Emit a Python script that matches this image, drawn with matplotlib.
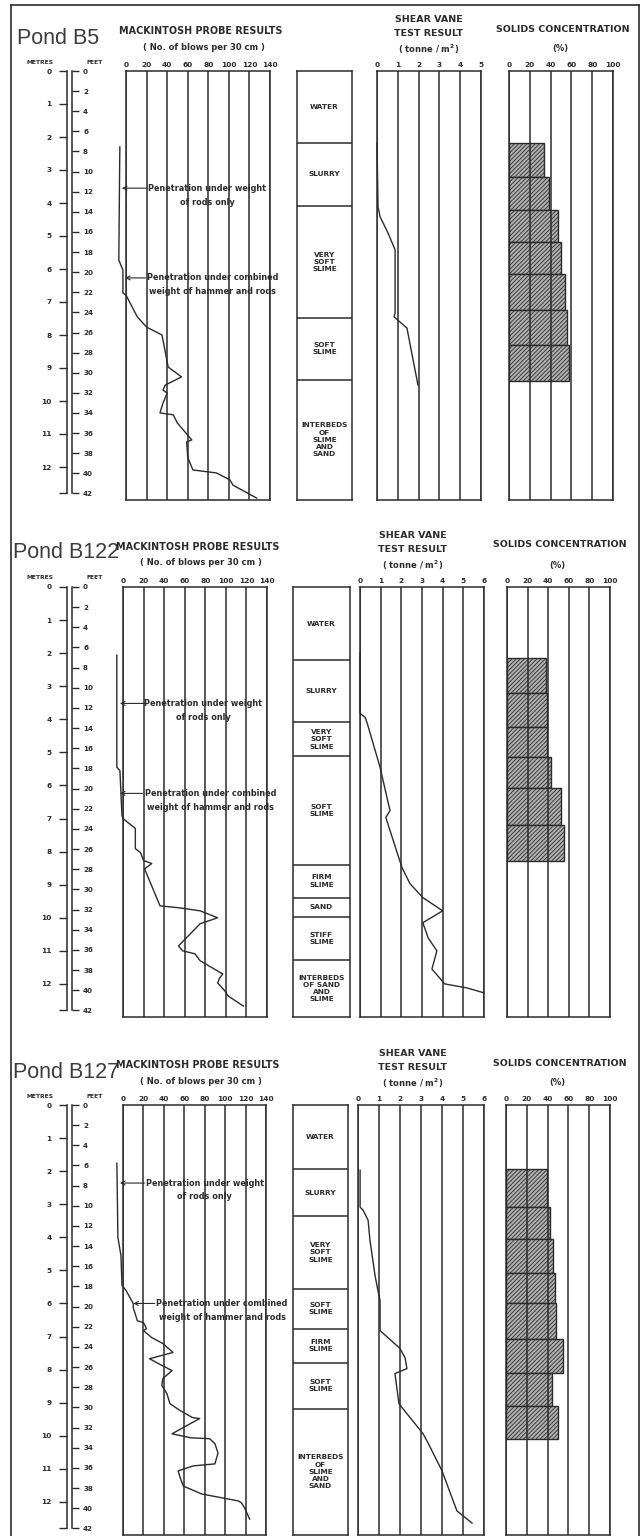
import numpy as np
import matplotlib
matplotlib.use('Agg')
import matplotlib.pyplot as plt
from matplotlib.lines import Line2D

W, H = 642, 1536
INK = '#2b2b2b'
DEPTH_MAX = 13.0
FT = 0.3048

# ---- tick labels ----
METRE_TICKS = list(range(0, 13))
FEET_TICKS = list(range(0, 43, 2))
PROBE_TICKS = [0, 20, 40, 60, 80, 100, 120, 140]
SOLIDS_TICKS = [0, 20, 40, 60, 80, 100]

# ---- Pond B5 ----
b5_probe_depth = [2.30, 5.73, 6.03, 6.73, 6.79, 7.45, 7.76, 8.00, 8.97, 9.27, 9.52, 9.67, 9.76,
                  10.06, 10.36, 10.42, 10.67, 11.18, 11.24, 11.70, 12.09, 12.18, 12.39, 12.55, 12.94]
b5_probe_blows = [-6, -7, -3, -3, 0, 11, 20, 35, 41, 54, 38, 36, 40,
                  36, 33, 46, 50, 64, 59, 60, 65, 88, 101, 104, 127]
b5_vane_depth = [2.18, 4.12, 4.42, 4.91, 5.42, 7.33, 7.45, 7.79, 9.52]
b5_vane_value = [0.0, 0.05, 0.15, 0.53, 0.87, 0.87, 0.82, 1.44, 1.97]
b5_vane_ticks = [0, 1, 2, 3, 4, 5]
b5_solids_edges = [2.18, 3.21, 4.21, 5.18, 6.15, 7.24, 8.30, 9.39]
b5_solids_pct = [34, 38, 47, 50, 54, 56, 58]
b5_layer_edges = [0, 2.18, 4.09, 7.48, 9.36, 13.0]
b5_layer_names = ['WATER', 'SLURRY', 'VERY\nSOFT\nSLIME', 'SOFT\nSLIME',
                  'INTERBEDS\nOF\nSLIME\nAND\nSAND']

# ---- Pond B122 ----
b122_probe_depth = [2.06, 5.45, 5.55, 6.91, 7.00, 7.30, 7.91, 8.03, 8.27, 8.36, 8.52, 8.67, 9.64,
                    9.70, 9.79, 10.00, 10.18, 10.85, 11.00, 11.09, 11.30, 11.70, 11.82, 11.97,
                    12.21, 12.36, 12.67]
b122_probe_blows = [-6, -6, -3, -1, 0, 12, 12, 17, 20, 28, 21, 23, 36,
                    55, 75, 92, 75, 54, 58, 70, 75, 97, 94, 92,
                    99, 102, 117]
b122_vane_depth = [2.00, 3.82, 3.94, 4.12, 5.45, 6.76, 6.97, 8.48, 8.97, 9.39, 9.79, 10.15,
                   10.61, 11.00, 11.55, 12.00, 12.12, 12.27]
b122_vane_value = [0.0, 0.0, 0.25, 0.35, 0.97, 1.45, 1.25, 2.03, 2.42, 3.04, 4.0, 3.04,
                   3.3, 3.72, 3.48, 4.1, 5.17, 6.0]
b122_vane_ticks = [0, 1, 2, 3, 4, 5, 6]
b122_solids_edges = [2.15, 3.21, 4.24, 5.15, 6.09, 7.21, 8.27]
b122_solids_pct = [38, 39, 39, 43, 52, 55]
b122_layer_edges = [0, 2.21, 4.09, 5.12, 8.39, 9.39, 9.97, 11.27, 13.0]
b122_layer_names = ['WATER', 'SLURRY', 'VERY\nSOFT\nSLIME', 'SOFT\nSLIME', 'FIRM\nSLIME',
                    'SAND', 'STIFF\nSLIME', 'INTERBEDS\nOF SAND\nAND\nSLIME']

# ---- Pond B127 ----
b127_probe_depth = [1.76, 4.00, 4.55, 5.45, 5.61, 6.00, 6.12, 6.52, 6.58, 6.76, 6.82, 7.03,
                    7.21, 7.48, 7.67, 7.79, 8.03, 8.27, 8.48, 8.73, 9.03, 9.24, 9.45, 9.48,
                    9.70, 9.94, 10.06, 10.09, 10.24, 10.52, 10.85, 10.91, 11.06, 11.27, 11.52,
                    11.76, 11.97, 12.03, 12.18, 12.52]
b127_probe_blows = [-6, -5, -2, -1, 3, 10, 10, 14, 20, 23, 20, 28,
                    39, 49, 26, 33, 48, 39, 38, 43, 46, 56, 68, 75,
                    62, 48, 66, 85, 90, 93, 90, 69, 54, 56, 59,
                    77, 113, 116, 119, 124]
b127_vane_depth = [1.97, 3.09, 3.18, 3.48, 4.09, 5.15, 5.61, 5.91, 6.82, 7.36, 7.64, 7.97,
                   8.12, 9.03, 9.15, 9.94, 10.21, 11.06, 12.27, 12.64]
b127_vane_value = [0.1, 0.1, 0.24, 0.48, 0.57, 0.81, 0.95, 1.05, 1.05, 2.0, 2.24, 2.33,
                   1.76, 1.95, 2.1, 3.1, 3.33, 4.0, 4.71, 5.43]
b127_vane_ticks = [0, 1, 2, 3, 4, 5, 6]
b127_solids_edges = [1.94, 3.09, 4.06, 5.09, 6.00, 7.06, 8.09, 9.09, 10.09]
b127_solids_pct = [39, 42, 45, 47, 48, 55, 44, 50]
b127_layer_edges = [0, 1.94, 3.36, 5.55, 6.76, 7.79, 9.18, 13.0]
b127_layer_names = ['WATER', 'SLURRY', 'VERY\nSOFT\nSLIME', 'SOFT\nSLIME', 'FIRM\nSLIME',
                    'SOFT\nSLIME', 'INTERBEDS\nOF\nSLIME\nAND\nSAND']

# pixel layout of each panel
panels = [
    dict(name='Pond B5', top=71, bottom=500, probe=(126, 270), strata=(297, 352),
         vane=(377, 481), solids=(509, 613), title=(17, 38), vane_cx=429, solids_cx=563,
         probe_d=b5_probe_depth, probe_v=b5_probe_blows,
         vane_d=b5_vane_depth, vane_v=b5_vane_value, vane_ticks=b5_vane_ticks,
         sol_e=b5_solids_edges, sol_v=b5_solids_pct,
         lay_e=b5_layer_edges, lay_n=b5_layer_names,
         rods=(3.55, -4, 21, 79), hammer=(6.27, -1, 19, 84)),
    dict(name='Pond B122', top=587, bottom=1017, probe=(123, 267), strata=(293, 350),
         vane=(360, 484), solids=(507, 610), title=(13, 552), vane_cx=413, solids_cx=560,
         probe_d=b122_probe_depth, probe_v=b122_probe_blows,
         vane_d=b122_vane_depth, vane_v=b122_vane_value, vane_ticks=b122_vane_ticks,
         sol_e=b122_solids_edges, sol_v=b122_solids_pct,
         lay_e=b122_layer_edges, lay_n=b122_layer_names,
         rods=(3.52, -3, 21, 78), hammer=(6.24, -3, 19, 85)),
    dict(name='Pond B127', top=1105, bottom=1535, probe=(123, 266), strata=(293, 348),
         vane=(358, 484), solids=(506, 610), title=(13, 1072), vane_cx=413, solids_cx=560,
         probe_d=b127_probe_depth, probe_v=b127_probe_blows,
         vane_d=b127_vane_depth, vane_v=b127_vane_value, vane_ticks=b127_vane_ticks,
         sol_e=b127_solids_edges, sol_v=b127_solids_pct,
         lay_e=b127_layer_edges, lay_n=b127_layer_names,
         rods=(2.36, -3, 21, 80), hammer=(6.0, 10, 31, 97)),
]

plt.rcParams['font.family'] = ['DejaVu Sans']
plt.rcParams['font.weight'] = 'bold'
plt.rcParams['hatch.linewidth'] = 0.6
plt.rcParams['text.color'] = INK

fig = plt.figure(figsize=(W / 100, H / 100), dpi=100)
fig.patch.set_facecolor('white')


def px_axes(x0, x1, y0, y1):
    return fig.add_axes([x0 / W, 1 - y1 / H, (x1 - x0) / W, (y1 - y0) / H])


def fig_text(x, y, s, **kw):
    fig.text(x / W, 1 - y / H, s, **kw)


def grid_axes(x0, x1, top, bottom, xmax, ticks):
    ax = px_axes(x0, x1, top, bottom)
    ax.set_xlim(0, xmax)
    ax.set_ylim(DEPTH_MAX, 0)
    ax.set_xticks(ticks, [str(t) for t in ticks])
    ax.xaxis.tick_top()
    ax.tick_params(axis='x', length=0, pad=2.5, labelsize=5.3, colors=INK)
    ax.set_yticks([])
    ax.grid(axis='x', color=INK, lw=1.1)
    for s in ax.spines.values():
        s.set_color(INK)
        s.set_linewidth(1.1)
    return ax


for p in panels:
    top, bot = p['top'], p['bottom']

    # title
    fig_text(p['title'][0], p['title'][1], p['name'], family='Liberation Sans',
             weight='normal', fontsize=15.5, color='#3c3c3c', ha='left', va='center')

    # depth ruler
    fig_text(40, top - 9, 'METRES', fontsize=4.3, ha='center', va='center')
    fig_text(95, top - 9, 'FEET', fontsize=4.3, ha='center', va='center')
    axm = px_axes(67, 68, top, bot)
    axm.set_ylim(DEPTH_MAX, 0)
    axm.patch.set_visible(False)
    for s in ['top', 'right', 'bottom']:
        axm.spines[s].set_visible(False)
    axm.spines['left'].set_bounds(0, 42 * FT)
    axm.spines['left'].set_color(INK)
    axm.spines['left'].set_linewidth(1.1)
    axm.set_xticks([])
    axm.set_yticks(METRE_TICKS + [42 * FT], [str(m) for m in METRE_TICKS] + [''])
    axm.tick_params(axis='y', length=6, width=1, pad=5, labelsize=5.3, colors=INK)

    axf = px_axes(71, 72, top, bot)
    axf.set_ylim(DEPTH_MAX, 0)
    axf.patch.set_visible(False)
    for s in ['top', 'left', 'bottom']:
        axf.spines[s].set_visible(False)
    axf.spines['right'].set_bounds(0, 42 * FT)
    axf.spines['right'].set_color(INK)
    axf.spines['right'].set_linewidth(1.1)
    axf.set_xticks([])
    axf.yaxis.tick_right()
    axf.set_yticks([f * FT for f in FEET_TICKS], [str(f) for f in FEET_TICKS])
    axf.tick_params(axis='y', length=5, width=1, pad=3, labelsize=5.1, colors=INK)

    # mackintosh probe
    x0, x1 = p['probe']
    cx = (x0 + x1) / 2
    fig_text(cx + 3, top - 40, 'MACKINTOSH PROBE RESULTS', fontsize=6.9, ha='center', va='center')
    fig_text(cx + 6, top - 24, '( No. of blows per 30 cm )', fontsize=6.0, ha='center', va='center')
    ax = grid_axes(x0, x1, top, bot, 140, PROBE_TICKS)
    ax.plot(p['probe_v'], p['probe_d'], color=INK, lw=1.0, clip_on=False)
    for key, l1, l2 in [('rods', 'Penetration under weight', 'of rods only'),
                        ('hammer', 'Penetration under combined', 'weight of hammer and rods')]:
        d, tip, tail, tx = p[key]
        ax.annotate('', xy=(tip, d), xytext=(tail, d), annotation_clip=False,
                    arrowprops=dict(arrowstyle='->', color=INK, lw=0.8,
                                    shrinkA=0, shrinkB=0, mutation_scale=7))
        ax.text(tx, d, l1, fontsize=5.9, ha='center', va='center', clip_on=False)
        ax.text(tx, d + 0.42, l2, fontsize=5.9, ha='center', va='center', clip_on=False)

    # strata column
    x0, x1 = p['strata']
    ax = px_axes(x0, x1, top, bot)
    ax.set_xlim(0, 1)
    ax.set_ylim(DEPTH_MAX, 0)
    ax.set_xticks([])
    ax.set_yticks([])
    for s in ax.spines.values():
        s.set_color(INK)
        s.set_linewidth(1.1)
    edges = p['lay_e']
    for e in edges[1:-1]:
        ax.axhline(e, color=INK, lw=1.1)
    for a, b, name in zip(edges[:-1], edges[1:], p['lay_n']):
        ax.text(0.5, (a + b) / 2, name, fontsize=5.3, ha='center', va='center',
                linespacing=1.25)

    # shear vane
    x0, x1 = p['vane']
    vt = p['vane_ticks']
    fig_text(p['vane_cx'], top - 52, 'SHEAR VANE', fontsize=6.8, ha='center', va='center')
    fig_text(p['vane_cx'], top - 38, 'TEST RESULT', fontsize=6.8, ha='center', va='center')
    fig_text(p['vane_cx'], top - 22, '( tonne / m$^\\mathbf{2}$)', fontsize=6.0,
             ha='center', va='center')
    ax = grid_axes(x0, x1, top, bot, vt[-1], vt)
    ax.plot(p['vane_v'], p['vane_d'], color=INK, lw=1.0, clip_on=False)

    # solids concentration
    x0, x1 = p['solids']
    fig_text(p['solids_cx'], top - 42, 'SOLIDS CONCENTRATION', fontsize=6.8,
             ha='center', va='center')
    fig_text(p['solids_cx'] - 3, top - 22, '(%)', fontsize=6.0, ha='center', va='center')
    ax = grid_axes(x0, x1, top, bot, 100, SOLIDS_TICKS)
    e = np.array(p['sol_e'])
    ax.barh((e[:-1] + e[1:]) / 2, p['sol_v'], height=e[1:] - e[:-1], left=0,
            color='#b0b0b0', edgecolor=INK, hatch='////////', lw=1.0)

# outer frame
fig.add_artist(Line2D([11 / W, 11 / W], [0, 1 - 5 / H], color=INK, lw=1.2))
fig.add_artist(Line2D([11 / W, 639 / W], [1 - 5 / H, 1 - 5 / H], color=INK, lw=1.2))
fig.add_artist(Line2D([639 / W, 639 / W], [0, 1 - 5 / H], color=INK, lw=1.2))

fig.savefig('out.png', dpi=100, facecolor='white')
